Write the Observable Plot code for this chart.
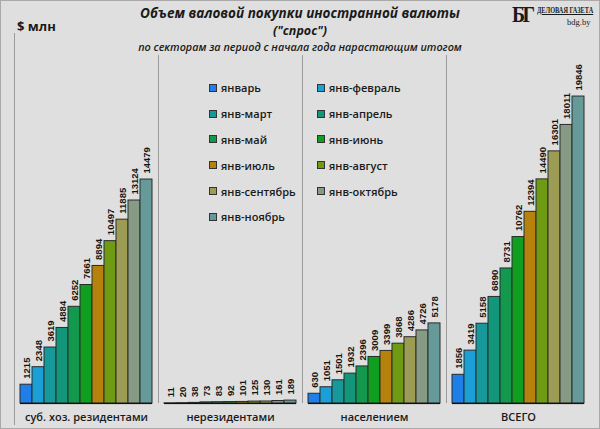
<!DOCTYPE html>
<html>
<head>
<meta charset="utf-8">
<script src="https://cdn.jsdelivr.net/npm/d3@7"></script>
<script src="https://cdn.jsdelivr.net/npm/@observablehq/plot@0.6"></script>
<style>
  html, body { margin: 0; padding: 0; background: #dfdfdf; }
  #wrap { position: relative; width: 600px; height: 429px; background: #dfdfdf; overflow: hidden;
          box-shadow: inset 0 0 0 1px #a9a9a9; font-family: "Open Sans", sans-serif; color: #1a1a1a; }
  #wrap svg { position: absolute; left: 0; top: 0; }
  .abs { position: absolute; white-space: nowrap; }
  #t1 { left: 0; width: 600px; text-align: center; top: 4px; font-size: 13.5px; font-weight: 700; font-style: italic; }
  #t2 { left: 0; width: 600px; text-align: center; top: 22px; font-size: 12.5px; font-weight: 700; font-style: italic; }
  #t3 { left: 0; width: 600px; text-align: center; top: 39px; font-size: 10.8px; font-weight: 600; font-style: italic; }
  #unit { left: 17px; top: 17px; font-size: 13px; font-weight: 700; }
  #logo1 { left: 512px; top: 1px; font-family: "Liberation Serif", "DejaVu Serif", serif; font-size: 24px; line-height: 26px;
           font-weight: 700; letter-spacing: -3px; transform: scaleX(0.82); transform-origin: left top; }
  #logo2 { left: 537px; top: 5px; font-family: "Liberation Serif", "DejaVu Serif", serif; font-size: 9px; line-height: 11px;
           font-weight: 700; text-decoration: underline; transform: scaleX(0.7); transform-origin: left top; }
  #logo3 { left: 567px; top: 17px; font-family: "Liberation Serif", "DejaVu Serif", serif; font-size: 8.5px; line-height: 10px; }
  #legend { left: 209px; top: 75px; display: grid; grid-template-columns: 108px 108px; grid-auto-rows: 25.8px; }
  .li { display: flex; align-items: center; font-size: 11px; font-weight: 600; }
  .sw { width: 6px; height: 6px; border: 1px solid #333; margin-right: 4px; }
</style>
</head>
<body>
<div id="wrap">
  <div id="chart"></div>
  <div class="abs" id="unit">$ млн</div>
  <div class="abs" id="t1">Объем валовой покупки иностранной валюты</div>
  <div class="abs" id="t2">("спрос")</div>
  <div class="abs" id="t3">по секторам за период с начала года нарастающим итогом</div>
  <div class="abs" id="logo1">БГ</div>
  <div class="abs" id="logo2">ДЕЛОВАЯ ГАЗЕТА</div>
  <div class="abs" id="logo3">bdg.by</div>
  <div class="abs" id="legend"></div>
</div>
<script>
const groups = ["суб. хоз. резидентами", "нерезидентами", "населением", "ВСЕГО"];
const periods = ["январь", "янв-февраль", "янв-март", "янв-апрель", "янв-май", "янв-июнь",
                 "янв-июль", "янв-август", "янв-сентябрь", "янв-октябрь", "янв-ноябрь"];
const residents    = [1215, 2348, 3619, 4884, 6252, 7661, 8894, 10497, 11885, 13124, 14479];
const nonresidents = [11, 20, 38, 73, 83, 92, 101, 125, 130, 161, 189];
const population   = [630, 1051, 1501, 1932, 2396, 3009, 3399, 3868, 4286, 4726, 5178];
const total        = [1856, 3419, 5158, 6890, 8731, 10762, 12394, 14490, 16301, 18011, 19846];
const colors = ["#1f7fe8", "#1aa0d6", "#17999c", "#13977a", "#12994e", "#0f9e1f",
                "#b5820d", "#6f9b12", "#9d9c55", "#879a83", "#659a98"];

const series = [residents, nonresidents, population, total];
const rows = [];
const domain = [];
groups.forEach((g, gi) => {
  domain.push("sep" + gi);
  periods.forEach((p, pi) => {
    const key = g + "|" + p;
    domain.push(key);
    rows.push({group: g, period: p, key, value: series[gi][pi], color: colors[pi]});
  });
});
const centers = groups.map(g => ({group: g, key: g + "|" + periods[5]}));
const font = "'Liberation Sans', Arial, sans-serif";

const chart = Plot.plot({
  width: 600,
  height: 429,
  marginTop: 55,
  marginBottom: 26,
  marginLeft: 0,
  marginRight: 0,
  style: {background: "transparent", overflow: "visible"},
  x: {type: "band", domain, range: [-2.4, 594], padding: 0, axis: null},
  y: {domain: [0, 22500], axis: null},
  marks: [
    Plot.ruleX(["sep1", "sep2", "sep3"], {x: d => d, stroke: "#9c9c9c", strokeWidth: 1}),
    Plot.ruleX(["sep0"], {x: d => d, stroke: "#9c9c9c", strokeWidth: 1, insetTop: -22, insetBottom: -22}),
    Plot.barY(rows, {x: "key", y: "value", fill: "color", stroke: "#2a2a2a", strokeWidth: 1}),
    Plot.tickY(rows, {x: "key", y: 0, stroke: "#111", strokeWidth: 1.2}),
    Plot.text(rows, {x: "key", y: "value", text: d => String(d.value), rotate: -90, textAnchor: "start",
                     dy: -6, fontSize: 9.5, fontWeight: "bold", fill: "#141414", fontFamily: font}),
    Plot.text(centers, {x: "key", text: "group", frameAnchor: "bottom", dy: 17, fontSize: 11,
                        fontWeight: 600, fill: "#1a1a1a", fontFamily: "'Open Sans', sans-serif"})
  ]
});
document.getElementById("chart").appendChild(chart);

const legend = document.getElementById("legend");
periods.forEach((p, i) => {
  const item = document.createElement("div");
  item.className = "li";
  const sw = document.createElement("span");
  sw.className = "sw";
  sw.style.background = colors[i];
  const t = document.createElement("span");
  t.textContent = p;
  item.appendChild(sw);
  item.appendChild(t);
  legend.appendChild(item);
});
</script>
</body>
</html>
